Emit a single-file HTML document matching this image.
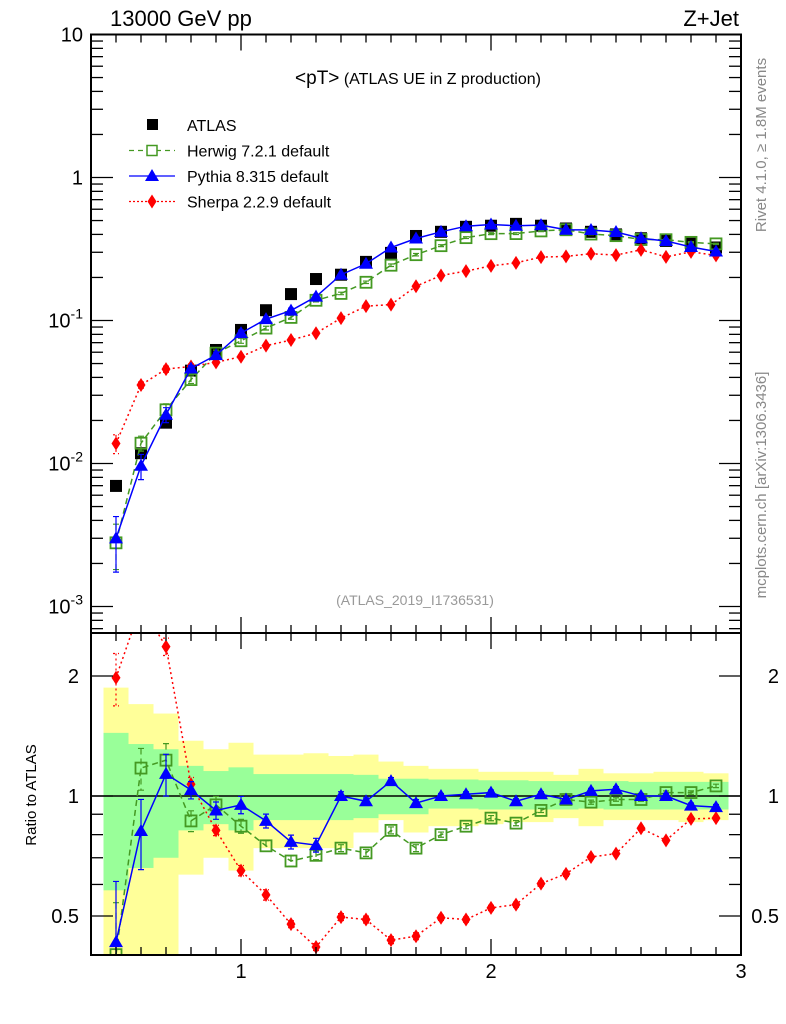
<!DOCTYPE html>
<html><head><meta charset="utf-8">
<style>
html,body{margin:0;padding:0;background:#fff;}
svg{display:block;font-family:"Liberation Sans",sans-serif;}
</style></head>
<body>
<svg id="c" width="786" height="1024" viewBox="0 0 786 1024" xmlns="http://www.w3.org/2000/svg">
<defs>
<clipPath id="clipM"><rect x="91" y="34.5" width="650" height="598.5"/></clipPath>
<clipPath id="clipR"><rect x="91" y="633" width="650" height="322"/></clipPath>
</defs>
<g id="bands" clip-path="url(#clipR)"></g>
<g id="marks"></g>
<g id="axes"></g>
<text x="110" y="26" font-size="22">13000 GeV pp</text>
<text x="739" y="26" font-size="22" text-anchor="end">Z+Jet</text>
<text x="418" y="84" text-anchor="middle"><tspan font-size="19">&lt;pT&gt;</tspan><tspan font-size="16"> (ATLAS UE in Z production)</tspan></text>
<text x="415" y="605" font-size="14" fill="#999" text-anchor="middle">(ATLAS_2019_I1736531)</text>
<text transform="translate(766,145) rotate(-90)" font-size="15" fill="#888" text-anchor="middle">Rivet 4.1.0, ≥ 1.8M events</text>
<text transform="translate(766,485) rotate(-90)" font-size="15" fill="#888" text-anchor="middle">mcplots.cern.ch [arXiv:1306.3436]</text>
<text transform="translate(36,795) rotate(-90)" font-size="15" text-anchor="middle">Ratio to ATLAS</text>
<g id="legend"></g>
</svg>
<script>
const xs = [0.5,0.6,0.7,0.8,0.9,1.0,1.1,1.2,1.3,1.4,1.5,1.6,1.7,1.8,1.9,2.0,2.1,2.2,2.3,2.4,2.5,2.6,2.7,2.8,2.9];
const atlas = [0.00697,0.0118,0.0193,0.0446,0.0622,0.0859,0.118,0.153,0.195,0.209,0.257,0.297,0.39,0.417,0.452,0.46,0.474,0.46,0.44,0.417,0.40,0.376,0.36,0.345,0.324];
const herwigRatio = [0.40,1.175,1.23,0.866,0.95,0.84,0.75,0.687,0.71,0.74,0.72,0.82,0.74,0.80,0.84,0.88,0.855,0.92,0.98,0.965,0.98,0.98,1.02,1.02,1.06];
const pythiaRatio = [0.43,0.817,1.136,1.035,0.92,0.95,0.866,0.767,0.753,1.0,0.97,1.09,0.96,1.0,1.01,1.02,0.97,1.01,0.98,1.03,1.04,1.0,1.0,0.946,0.938];
const sherpaRatio = [1.98,3.0,2.37,1.07,0.82,0.65,0.565,0.477,0.418,0.497,0.49,0.435,0.445,0.495,0.49,0.524,0.534,0.603,0.638,0.703,0.717,0.83,0.774,0.876,0.88];
const herwigErr = [0.35,0.12,0.1,0.06,0.05,0.04,0.03,0.03,0.025,0.02,0.02,0.02,0.02,0.015,0.015,0.015,0.015,0.012,0.012,0.012,0.01,0.01,0.01,0.01,0.01];
const pythiaErr = [0.42,0.2,0.12,0.05,0.05,0.05,0.04,0.04,0.04,0.025,0.02,0.02,0.02,0.015,0.015,0.015,0.015,0.015,0.015,0.015,0.015,0.015,0.015,0.015,0.015];
const sherpaErr = [0.15,0.05,0.05,0.04,0.03,0.03,0.03,0.02,0.02,0.02,0.02,0.02,0.02,0.015,0.015,0.015,0.015,0.015,0.015,0.012,0.012,0.012,0.012,0.012,0.012];
const yellowUp = [1.87,1.70,1.61,1.376,1.31,1.36,1.27,1.27,1.28,1.26,1.27,1.22,1.19,1.17,1.17,1.15,1.15,1.15,1.13,1.17,1.14,1.14,1.15,1.15,1.14];
const yellowLo = [0.3,0.3,0.3,0.635,0.70,0.65,0.74,0.74,0.74,0.74,0.81,0.87,0.81,0.84,0.84,0.85,0.86,0.86,0.88,0.84,0.87,0.87,0.87,0.86,0.87];
const greenUp = [1.44,1.35,1.31,1.19,1.155,1.18,1.135,1.135,1.135,1.135,1.13,1.105,1.105,1.10,1.10,1.095,1.095,1.09,1.09,1.09,1.09,1.085,1.085,1.085,1.085];
const greenLo = [0.58,0.66,0.70,0.82,0.85,0.82,0.87,0.87,0.87,0.87,0.88,0.90,0.90,0.93,0.93,0.925,0.925,0.925,0.925,0.93,0.925,0.925,0.925,0.925,0.925];
const xTicks = [1,2,3];
const mainTicks = [10,1,0.1,0.01,0.001];
const mainTickLabels = ["10","1","10^-1","10^-2","10^-3"];
const ratioTicks = [2,1,0.5];
const ratioTickLabels = ["2","1","0.5"];

const NS="http://www.w3.org/2000/svg";
const L=91,R=741,T=34.5,MB=633,RB=955;
const X=v=>L+(v-0.4)*250;
const Ym=v=>T+(1-Math.log10(v))*143;
const Yr=v=>796-Math.log10(v)*398.7;
function el(tag,attrs,parent){const e=document.createElementNS(NS,tag);for(const k in attrs)e.setAttribute(k,attrs[k]);parent.appendChild(e);return e;}
const bands=document.getElementById('bands'),marks=document.getElementById('marks'),axes=document.getElementById('axes'),legend=document.getElementById('legend');

xs.forEach((x,i)=>{
  let r=el('rect',{x:X(x-0.05),y:Yr(yellowUp[i]),width:25,height:Yr(yellowLo[i])-Yr(yellowUp[i]),fill:'#ffff99'},bands);
  
  
});
xs.forEach((x,i)=>{
  let r=el('rect',{x:X(x-0.05),y:Yr(greenUp[i]),width:25,height:Yr(greenLo[i])-Yr(greenUp[i]),fill:'#99ff99'},bands);
  
  
});
let one=el('line',{x1:L,x2:R,y1:Yr(1),y2:Yr(1),stroke:'#000','stroke-width':1.5},marks);



function marker(type,cx,cy,color,g){
  if(type==='sq') return el('rect',{x:cx-6,y:cy-6,width:12,height:12,fill:color},g);
  if(type==='osq') return el('rect',{x:cx-5.5,y:cy-5.5,width:11,height:11,fill:'none',stroke:color,'stroke-width':1.8},g);
  if(type==='tri') return el('polygon',{points:`${cx},${cy-7} ${cx-7},${cy+5} ${cx+7},${cy+5}`,fill:color},g);
  if(type==='dia') return el('polygon',{points:`${cx},${cy-7} ${cx-4.5},${cy} ${cx},${cy+7} ${cx+4.5},${cy}`,fill:color},g);
}
const series=[
 {name:'herwig',ratio:herwigRatio,err:herwigErr,color:'#449922',type:'osq',dash:'6,4',w:1.5},
 {name:'sherpa',ratio:sherpaRatio,err:sherpaErr,color:'#ff0000',type:'dia',dash:'2,3',w:1.5},
 {name:'pythia',ratio:pythiaRatio,err:pythiaErr,color:'#0000ff',type:'tri',dash:'',w:1.5}
];
function drawPanel(Yf,clip,vals,errs,s,main){
  const g=el('g',{'clip-path':`url(#${clip})`},marks);
  
  
  const pts=xs.map((x,i)=>X(x)+','+Yf(vals[i])).join(' ');
  const pl=el('polyline',{points:pts,fill:'none',stroke:s.color,'stroke-width':s.w,'stroke-dasharray':s.dash},g);
  
  
  xs.forEach((x,i)=>{
    const e=errs[i];
    const y1=Yf(vals[i]*(1+e)),y2=Yf(Math.max(vals[i]*(1-e),1e-6));
    const eb=el('path',{d:`M${X(x)},${y1}V${y2}M${X(x)-3},${y1}H${X(x)+3}M${X(x)-3},${y2}H${X(x)+3}`,stroke:s.color,'stroke-width':1.2,fill:'none','stroke-dasharray':s.dash},g);
    
    
    const m=marker(s.type,X(x),Yf(vals[i]),s.color,g);
    
    
  });
}
series.forEach(s=>{
  const mainVals=atlas.map((a,i)=>a*s.ratio[i]);
  drawPanel(Ym,'clipM',mainVals,s.err,s,true);
  drawPanel(Yr,'clipR',s.ratio,s.err,s,false);
});
const ag=document.createElementNS(NS,'g');
marks.insertBefore(ag,marks.children[1]);


xs.forEach((x,i)=>{
  const m=marker('sq',X(x),Ym(atlas[i]),'#000',ag);
  
  
});

const f1=el('rect',{x:L,y:T,width:R-L,height:MB-T,fill:'none',stroke:'#000','stroke-width':2},axes);


const f2=el('rect',{x:L,y:MB,width:R-L,height:RB-MB,fill:'none',stroke:'#000','stroke-width':2},axes);


function tick(x1,y1,x2,y2){const t=el('line',{x1,y1,x2,y2,stroke:'#000','stroke-width':1.3},axes);}
for(let k=5;k<=29;k++){
  const v=k/10,x=X(v),maj=(k%10===0);
  const len=maj?16:8;
  tick(x,T,x,T+len);tick(x,MB,x,MB-len);tick(x,MB,x,MB+len);tick(x,RB,x,RB-len);
}
xTicks.forEach(v=>{
  const t=el('text',{x:X(v),y:978,'font-size':20,'text-anchor':'middle'},axes);
  t.textContent=String(v);
  
  
});
for(let d=-3;d<=0;d++){for(let m=1;m<=9;m++){const v=m*Math.pow(10,d),y=Ym(v);if(y<T||y>MB)continue;const len=m===1?22:12;tick(L,y,L+len,y);tick(R,y,R-len,y);}}
tick(L,Ym(10),L+22,Ym(10));
for(let m=2;m<=9;m++){const y=Ym(m*1e-4);if(y<=MB){tick(L,y,L+12,y);tick(R,y,R-12,y);}}
mainTicks.forEach((v,i)=>{
  const t=el('text',{x:L-8,y:Ym(v)+7,'font-size':20,'text-anchor':'end'},axes);
  const lab=mainTickLabels[i];
  if(lab.indexOf('^')>0){const p=lab.split('^');t.textContent=p[0];const s=el('tspan',{dy:-9,'font-size':14},t);s.textContent=p[1];}
  else t.textContent=lab;
  
  
});
[0.4,0.5,0.6,0.7,0.8,0.9,1,2].forEach(v=>{const y=Yr(v);const len=(v===0.5||v===1||v===2)?22:12;tick(L,y,L+len,y);tick(R,y,R-len,y);});
ratioTicks.forEach((v,i)=>{
  const t=el('text',{x:L-12,y:Yr(v)+7,'font-size':20,'text-anchor':'end'},axes);
  t.textContent=ratioTickLabels[i];
  
  
  const t2=el('text',{x:779,y:Yr(v)+7,'font-size':20,'text-anchor':'end'},axes);
  t2.textContent=ratioTickLabels[i];
  
  
});
const leg=[['ATLAS','sq','#000','',0],['Herwig 7.2.1 default','osq','#449922','5,4',1],['Pythia 8.315 default','tri','#0000ff','',1],['Sherpa 2.2.9 default','dia','#ff0000','2,2',1]];
leg.forEach((l,i)=>{
  const y=125+i*25.5;
  const g=el('g',{},legend);
  
  
  if(l[4]) el('line',{x1:129,x2:175,y1:y,y2:y,stroke:l[2],'stroke-width':1.3,'stroke-dasharray':l[3]},g);
  if(l[1]==='sq') el('rect',{x:147,y:y-6,width:11,height:11,fill:'#000'},g);
  else if(l[1]==='osq') el('rect',{x:147,y:y-5,width:10,height:10,fill:'#fff',stroke:l[2],'stroke-width':1.5},g);
  else marker(l[1],152,y,l[2],g);
  const t=el('text',{x:187,y:y+6,'font-size':16},g);
  t.textContent=l[0];
});
</script>
</body></html>
